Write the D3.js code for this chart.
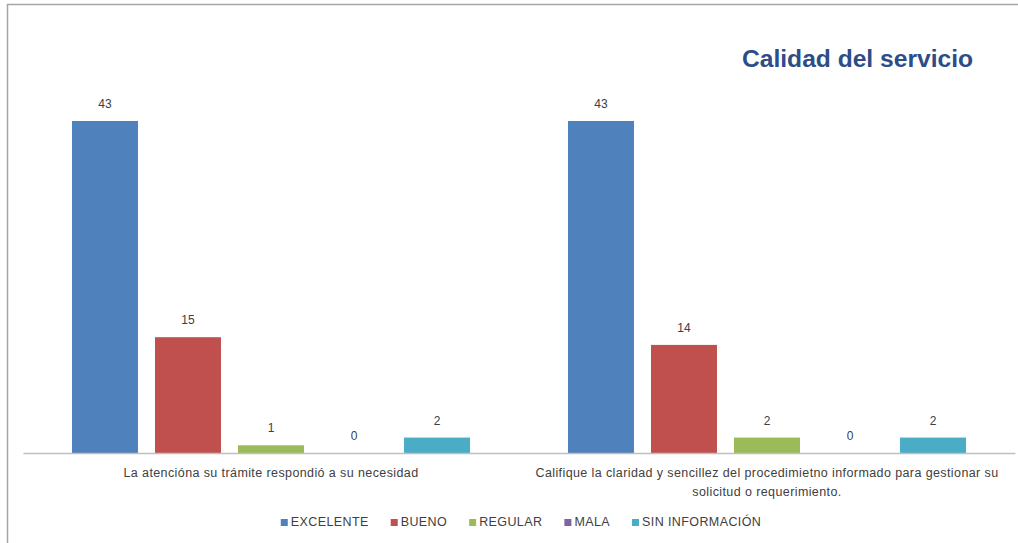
<!DOCTYPE html>
<html>
<head>
<meta charset="utf-8">
<script src="https://cdn.jsdelivr.net/npm/d3@7"></script>
<style>
  body { margin: 0; background: #fff; }
  svg { display: block; font-family: "Liberation Sans", Arial, sans-serif; }
</style>
</head>
<body>
<svg id="chart"></svg>
<script>
var categories = [
    ["La atencióna su trámite respondió a su necesidad"],
    ["Califique la claridad y sencillez del procedimietno informado para gestionar su", "solicitud o requerimiento."]
];
var seriesNames = ["EXCELENTE", "BUENO", "REGULAR", "MALA", "SIN INFORMACIÓN"];
var seriesColors = ["#4f81bd", "#c0504d", "#9bbb59", "#8064a2", "#4bacc6"];
var excelente = [43, 43];
var bueno = [15, 14];
var regular = [1, 2];
var mala = [0, 0];
var sinInfo = [2, 2];

var width = 1018;
var height = 543;
var margin = { top: 121, bottom: 90, left: 23, right: 3 };

var seriesValues = [excelente, bueno, regular, mala, sinInfo];
var data = categories.map(function (c, i) {
    return {
        key: i,
        lines: c,
        values: seriesNames.map(function (s, j) { return { name: s, value: seriesValues[j][i], color: seriesColors[j] }; })
    };
});

var svg = d3.select("#chart")
    .attr("width", width)
    .attr("height", height);

// frame
svg.append("rect")
    .attr("x", 7.5).attr("y", 4.5)
    .attr("width", width).attr("height", height)
    .attr("fill", "none")
    .attr("stroke", "#a6a6a6")
    .attr("stroke-width", 1.5);

var x0 = d3.scaleBand()
    .domain(data.map(d => d.key))
    .range([margin.left, width - margin.right]);

var x1 = d3.scaleBand()
    .domain(seriesNames)
    .range([0, x0.bandwidth()])
    .paddingInner(0.205)
    .paddingOuter(0.59);

var y = d3.scaleLinear()
    .domain([0, 43])
    .range([height - margin.bottom, margin.top]);

var groups = svg.selectAll(".group")
    .data(data)
    .enter().append("g")
    .attr("class", "group")
    .attr("transform", d => "translate(" + x0(d.key) + ",0)");

groups.selectAll("rect")
    .data(d => d.values)
    .enter().append("rect")
    .attr("x", d => x1(d.name))
    .attr("y", d => y(d.value))
    .attr("width", x1.bandwidth())
    .attr("height", d => y(0) - y(d.value))
    .attr("fill", d => d.color);

groups.selectAll(".val")
    .data(d => d.values)
    .enter().append("text")
    .attr("class", "val")
    .attr("x", d => x1(d.name) + x1.bandwidth() / 2)
    .attr("y", d => y(d.value) - 13)
    .attr("text-anchor", "middle")
    .attr("font-size", "12px")
    .attr("fill", "#404040")
    .text(d => d.value);

// axis
var axis = svg.append("g")
    .attr("transform", "translate(0," + y(0) + ")")
    .call(d3.axisBottom(x0).tickSize(0).tickFormat(""));
axis.select(".domain").attr("stroke", "#bfbfbf").attr("stroke-width", 1.5);

var labels = svg.selectAll(".cat")
    .data(data)
    .enter().append("text")
    .attr("class", "cat")
    .attr("text-anchor", "middle")
    .attr("font-size", "12.5px")
    .attr("letter-spacing", "0.4px")
    .attr("fill", "#404040");

labels.selectAll("tspan")
    .data(d => d.lines.map(l => ({ l: l, x: x0(d.key) + x0.bandwidth() / 2 })))
    .enter().append("tspan")
    .attr("x", d => d.x)
    .attr("y", (d, i) => y(0) + 24 + i * 19)
    .text(d => d.l);

// title
svg.append("text")
    .attr("x", 973)
    .attr("y", 67)
    .attr("text-anchor", "end")
    .attr("font-size", "24.6px")
    .attr("font-weight", "bold")
    .attr("fill", "#2e4d87")
    .text("Calidad del servicio");

// legend
var legend = svg.append("g");
var lx = 0;
seriesNames.forEach(function (s, i) {
    var item = legend.append("g").attr("transform", "translate(" + lx + ",0)");
    item.append("rect")
        .attr("x", 0).attr("y", -7)
        .attr("width", 7).attr("height", 7)
        .attr("fill", seriesColors[i]);
    var t = item.append("text")
        .attr("x", 10)
        .attr("y", 0)
        .attr("font-size", "12.5px")
        .attr("letter-spacing", "0.4px")
        .attr("fill", "#404040")
        .text(s);
    lx += 10 + t.node().getComputedTextLength() + 22;
});
var legendWidth = lx - 22;
legend.attr("transform", "translate(" + (521 - legendWidth / 2) + ",526)");
</script>
</body>
</html>
